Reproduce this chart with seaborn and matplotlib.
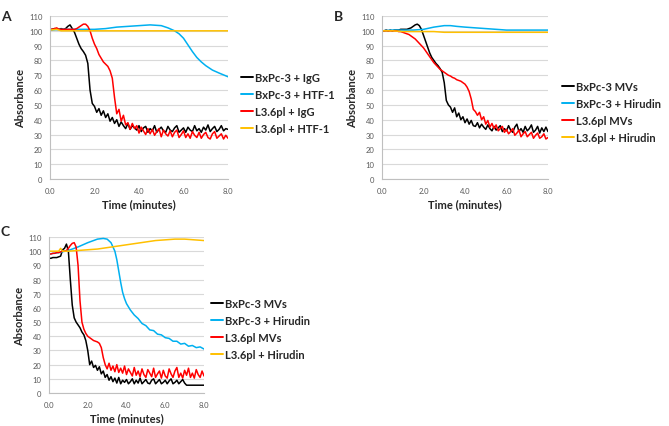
import numpy as np
import pandas as pd
import matplotlib.pyplot as plt
import seaborn as sns

# recorder sampling grid, one reading every 0.1 min
t_grid = np.round(np.arange(81) * 0.1, 1)

colors = ['#000000', '#00B0F0', '#FF0000', '#FFC000']

# ---- panel A ----
a_labels = ['BxPc-3 + IgG', 'BxPc-3 + HTF-1', 'L3.6pl + IgG', 'L3.6pl + HTF-1']
a_bx_igg = [101, 101, 101.5, 101, 101, 101.5, 101, 101.5,
            103, 104, 101.5, 99, 95, 91, 88, 86, 83.5, 78, 60, 51,
            49, 45, 47.5, 43, 46, 41.5, 44, 39, 41.5, 37.5,
            40, 35.5, 38.5, 36, 34, 37.5, 33.5, 36, 34.5, 33,
            36, 32, 34.5, 35.5, 31.5, 34, 32.5, 36, 31.5, 33.5,
            35, 32.5, 31.5, 35.5, 33, 32, 34.5, 36, 31.5, 33,
            34.5, 31.5, 35, 33, 32, 36, 32.5, 34, 31.5, 35,
            33, 36.5, 32, 34, 35.5, 32, 33.5, 36, 32.5, 34, 33.5]
a_l3_igg = [101, 101, 101.5, 102, 101, 101, 101, 101, 101, 101, 101, 101, 101.5, 102.5,
            103.5, 104.5, 104.5, 103, 100, 95, 91, 88, 84, 81.5, 79, 77.5, 76, 73, 68, 55,
            44, 47, 39, 43, 36.5, 38, 33.5, 37.5, 34, 36,
            31, 35, 32.5, 30, 34, 30.5, 33.5, 29.5, 32, 34,
            28.5, 33, 30.5, 29, 32.5, 28.5, 31.5, 33, 28, 30,
            32.5, 28, 30.5, 27.5, 32, 29.5, 28, 31.5, 27.5, 30,
            31.5, 28, 27, 30.5, 32, 27.5, 29, 30.5, 27, 29.5, 27.5]
a_bx_htf_t = [0, 0.5, 1.0, 1.5, 2.0, 2.5, 3.0, 3.5, 4.0, 4.5, 5.0, 5.3, 5.6, 5.8,
              6.0, 6.2, 6.4, 6.6, 6.8, 7.0, 7.3, 7.6, 8.0]
a_bx_htf = [100.5, 101, 101, 101, 101, 101.5, 102.5, 103, 103.5, 104, 103.5, 102, 100, 98,
            95, 90.5, 86, 82, 79, 76.5, 73.5, 71.5, 69]
a_l3_htf_t = [0, 0.3, 0.5, 1, 2, 4, 6, 8]
a_l3_htf = [100.5, 101, 100, 100, 100, 100, 100, 100]

# ---- panel B ----
b_labels = ['BxPc-3 MVs', 'BxPc-3 + Hirudin', 'L3.6pl MVs', 'L3.6pl + Hirudin']
b_bx_mv = [100, 100, 100.5, 100, 100.5, 100, 100.5, 100.5, 100.5, 101, 101, 101, 101, 101.5,
           102, 103, 104, 104.5, 103.5, 101, 97, 93, 89, 85,
           82, 80, 78, 76.5, 74.5, 72, 65, 53, 50, 48.5,
           45, 48, 42, 44.5, 40, 42,
           38, 40.5, 37, 39.5, 36, 35.5, 38, 34.5, 37, 35,
           33.5, 36.5, 34, 32.5, 35.5, 33, 34.5, 36, 32, 34,
           32.5, 36, 33, 31.5, 35, 37, 32, 34, 31.5, 35.5,
           32.5, 34, 36.5, 31.5, 33, 35.5, 31, 34.5, 32, 35, 32]
b_l3_mv = [100, 100, 100, 100, 100, 100, 100, 100, 99.5, 99.5,
           99, 98.5, 98, 97.5, 96.5, 95.5, 94.5, 93, 91.5, 90,
           88.5, 86.5, 84.5, 82.5, 80.5, 78.5, 77, 75.5, 74, 73,
           72, 71, 70, 69.5, 68.5, 68, 67, 66.5, 66, 65,
           64, 62, 59, 54, 47, 45.5, 43, 45, 40, 42,
           37, 39.5, 35, 37.5, 34, 36.5, 32.5, 34, 35.5, 31.5,
           33.5, 30.5, 32, 34, 29.5, 31, 33, 28.5, 30.5, 32,
           28.5, 30, 31.5, 27.5, 29.5, 31, 27.5, 28.5, 30.5, 27, 28]
b_bx_hir_t = [0, 0.5, 1, 1.5, 2.0, 2.5, 3.0, 3.3, 3.6, 4.0, 4.5, 5.0, 5.5, 6.0, 7.0, 8.0]
b_bx_hir = [100, 100.5, 100.5, 100.5, 101, 102.5, 103.5, 103.5, 103, 102.5, 102, 101.5,
            101, 100.5, 100.5, 100.5]
b_l3_hir_t = [0, 0.5, 1, 2, 2.5, 3, 4, 6, 8]
b_l3_hir = [100, 100, 99.5, 99.5, 99.5, 99, 99, 99, 99]

# ---- panel C ----
c_labels = ['BxPc-3 MVs', 'BxPc-3 + Hirudin', 'L3.6pl MVs', 'L3.6pl + Hirudin']
c_bx_mv = [95, 95, 95.5, 95.5, 95.5, 96, 96.5, 101, 102, 105,
           100, 80, 62, 53, 50, 48, 46, 43, 41, 37,
           30, 20, 22.5, 18, 19.5, 16, 18.5, 13.5, 15.5, 11,
           13, 9, 11.5, 8, 10.5, 7, 11, 6.5, 9, 7.5,
           9.5, 6.5, 8, 10, 6.5, 9, 7, 10.5, 6.5, 8,
           9.5, 7, 6.5, 9, 10, 6.5, 8, 9.5, 6.5, 7.5,
           9, 6.5, 8.5, 10, 6.5, 7.5, 9, 6.5, 8, 9.5,
           7, 5.5, 5.5, 5.5, 5.5, 5.5, 5.5, 5.5, 5.5, 5.5, 5.5]
c_l3_mv = [98, 98, 98.5, 98.5, 99, 99, 99.5, 100, 100, 100.5,
           102, 104, 105.5, 106, 103, 90, 65, 50, 45, 42,
           40, 39, 38, 37, 36.5, 36, 35, 32, 25, 20,
           17, 21, 16, 19, 15, 20, 14.5, 17.5, 14, 19,
           13, 17, 14.5, 12, 18, 12.5, 15.5, 11.5, 17, 13,
           11, 16.5, 14, 11.5, 17.5, 11, 13.5, 15.5, 10.5, 16,
           12, 10.5, 17, 13.5, 11, 15.5, 18, 11, 14, 10.5,
           16, 12.5, 17.5, 11, 14, 10.5, 16.5, 13, 11, 15.5, 12]
c_bx_hir_t = [0, 0.5, 1.0, 1.5, 2.0, 2.5, 2.8, 3.0, 3.2, 3.4,
              3.5, 3.6, 3.7, 3.8, 3.9, 4.0,
              4.2, 4.4, 4.6, 4.8, 5.0, 5.2, 5.4, 5.6, 5.8, 6.0,
              6.2, 6.4, 6.6, 6.8, 7.0, 7.2, 7.4, 7.6, 7.8, 8.0]
c_bx_hir = [98, 99, 100.5, 103, 106, 108.5, 109, 108.5, 106, 100,
            94, 86, 78, 71, 66.5, 63,
            58.5, 55, 52.5, 49, 47.5, 44.5, 44, 41.5, 41, 39,
            38.5, 36.5, 36.5, 34.5, 35, 33, 33.5, 32, 32.5, 31]
c_l3_hir_t = [0, 0.5, 0.6, 0.7, 1.0, 1.5, 2.0, 2.5, 3.0, 3.5, 4.0, 4.5,
              5.0, 5.5, 6.0, 6.5, 7.0, 7.5, 8.0]
c_l3_hir = [100, 100, 102, 100, 100, 100.5, 101, 101.5, 102.5, 103.5, 104.5, 105.5,
            106.5, 107.5, 108, 108.5, 108.5, 108, 107.5]

sns.set_style('white')
plt.rcParams['font.family'] = ['Lato', 'DejaVu Sans']

fig = plt.figure(figsize=(6.69, 4.27), dpi=100)
W, H = 669, 427


def px_axes(left, top, right, bottom):
    return fig.add_axes([left / W, 1 - bottom / H, (right - left) / W, (bottom - top) / H])


def panel(ax, series, labels, legend_xy):
    frames = []
    for lab, (tt, yy) in zip(labels, series):
        frames.append(pd.DataFrame({'time': tt, 'absorbance': yy, 'series': lab}))
    df = pd.concat(frames, ignore_index=True)
    sns.lineplot(data=df, x='time', y='absorbance', hue='series', hue_order=labels,
                 palette=dict(zip(labels, colors)), estimator=None, errorbar=None,
                 sort=False, linewidth=1.1, ax=ax)
    ax.set_xlim(0, 8)
    ax.set_ylim(0, 110)
    ax.set_yticks(range(0, 111, 10))
    ax.set_xticks([0, 2, 4, 6, 8])
    ax.set_xticklabels([f'{v:.1f}' for v in [0, 2, 4, 6, 8]])
    ax.yaxis.grid(True, color='#d9d9d9', linewidth=0.8)
    ax.xaxis.grid(False)
    ax.set_axisbelow(True)
    for s in ['top', 'right']:
        ax.spines[s].set_visible(False)
    for s in ['left', 'bottom']:
        ax.spines[s].set_color('#bfbfbf')
        ax.spines[s].set_linewidth(0.8)
    ax.tick_params(labelsize=5.5, labelcolor='#595959', color='#bfbfbf',
                   length=2.5, width=0.6, pad=3)
    ax.set_xlabel('Time (minutes)', fontsize=8, fontweight='bold', labelpad=3)
    ax.set_ylabel('Absorbance', fontsize=8, fontweight='bold', labelpad=2)
    sns.move_legend(ax, 'center left', bbox_to_anchor=(legend_xy[0] / W, 1 - legend_xy[1] / H),
                    bbox_transform=fig.transFigure, frameon=False, title=None,
                    handlelength=1.1, handletextpad=0.15, labelspacing=0.55,
                    borderpad=0, borderaxespad=0,
                    prop={'weight': 'bold', 'size': 8})
    for ln in ax.get_legend().get_lines():
        ln.set_linewidth(1.4)


ax_a = px_axes(50, 17, 228, 180)
panel(ax_a, [(t_grid, a_bx_igg), (a_bx_htf_t, a_bx_htf), (t_grid, a_l3_igg), (a_l3_htf_t, a_l3_htf)],
      a_labels, (241, 104))

ax_b = px_axes(382, 17, 548, 180)
panel(ax_b, [(t_grid, b_bx_mv), (b_bx_hir_t, b_bx_hir), (t_grid, b_l3_mv), (b_l3_hir_t, b_l3_hir)],
      b_labels, (562, 113))

ax_c = px_axes(49, 238, 204, 394)
panel(ax_c, [(t_grid, c_bx_mv), (c_bx_hir_t, c_bx_hir), (t_grid, c_l3_mv), (c_l3_hir_t, c_l3_hir)],
      c_labels, (211, 330))

fig.text(6 / W, 1 - 17 / H, 'A', fontsize=10, fontweight='bold', ha='center', va='center')
fig.text(338 / W, 1 - 17 / H, 'B', fontsize=10, fontweight='bold', ha='center', va='center')
fig.text(5 / W, 1 - 232 / H, 'C', fontsize=10, fontweight='bold', ha='center', va='center')

fig.savefig('out.png', dpi=100)
